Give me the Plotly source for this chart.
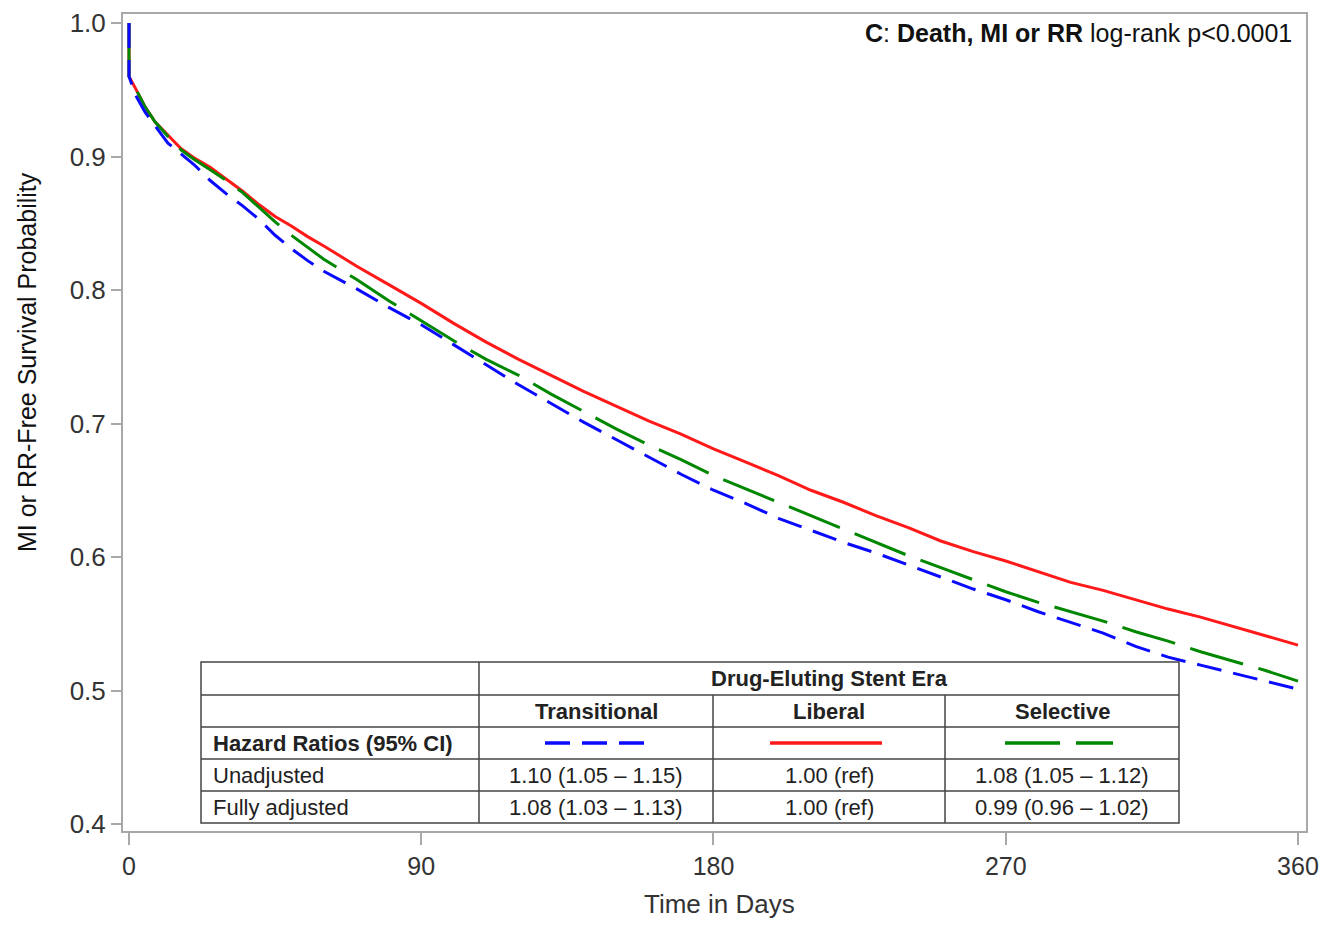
import plotly.graph_objects as go

# ---------------- data ----------------
days = [0, 0, 2, 5, 8, 12, 16, 20, 25, 30, 35, 40, 45, 50, 55, 60, 70, 80, 90, 100,
        110, 120, 130, 140, 150, 160, 170, 180, 190, 200, 210, 220, 230, 240, 250,
        260, 270, 280, 290, 300, 310, 320, 330, 340, 350, 360]

liberal = [1.0, 0.960, 0.951, 0.937, 0.926, 0.916, 0.906, 0.899, 0.892, 0.883, 0.874,
           0.864, 0.855, 0.848, 0.840, 0.833, 0.818, 0.804, 0.790, 0.775, 0.761, 0.748,
           0.736, 0.724, 0.713, 0.702, 0.692, 0.681, 0.671, 0.661, 0.650, 0.641, 0.631,
           0.622, 0.612, 0.604, 0.597, 0.589, 0.581, 0.575, 0.568, 0.561, 0.555, 0.548,
           0.541, 0.534]

selective = [1.0, 0.960, 0.951, 0.937, 0.926, 0.915, 0.905, 0.898, 0.890, 0.882, 0.873,
             0.862, 0.851, 0.841, 0.832, 0.823, 0.808, 0.792, 0.777, 0.762, 0.748, 0.736,
             0.722, 0.709, 0.696, 0.684, 0.673, 0.661, 0.651, 0.641, 0.631, 0.621, 0.611,
             0.601, 0.592, 0.583, 0.574, 0.566, 0.559, 0.552, 0.544, 0.537, 0.529, 0.522,
             0.515, 0.507]

transitional = [1.0, 0.960, 0.946, 0.933, 0.923, 0.910, 0.902, 0.894, 0.882, 0.872, 0.863,
                0.853, 0.841, 0.831, 0.822, 0.814, 0.801, 0.787, 0.774, 0.759, 0.744, 0.729,
                0.715, 0.701, 0.688, 0.675, 0.662, 0.650, 0.640, 0.629, 0.620, 0.611, 0.603,
                0.594, 0.585, 0.576, 0.568, 0.559, 0.551, 0.543, 0.533, 0.525, 0.519, 0.513,
                0.507, 0.501]

x_ticks = [0, 90, 180, 270, 360]
y_ticks = [0.4, 0.5, 0.6, 0.7, 0.8, 0.9, 1.0]

era_header = "Drug-Eluting Stent Era"
era_names = ["Transitional", "Liberal", "Selective"]
row_labels = ["Hazard Ratios (95% CI)", "Unadjusted", "Fully adjusted"]
unadjusted = ["1.10 (1.05 – 1.15)", "1.00 (ref)", "1.08 (1.05 – 1.12)"]
fully_adjusted = ["1.08 (1.03 – 1.13)", "1.00 (ref)", "0.99 (0.96 – 1.02)"]

# ---------------- styling ----------------
RED = "rgb(255,25,25)"
BLUE = "rgb(10,10,255)"
GREEN = "rgb(0,135,0)"
BLUE_DASH = "25px,12px"
GREEN_DASH = "55px,16px"
FONT = "Liberation Sans, Arial, sans-serif"
TXT = "#222222"

OFF = 8                      # browser body margin
W, H = 1336 - 2 * OFF, 931 - 2 * OFF
# plot-area edges in screen pixels
SL, SR, ST, SB = 123, 1306, 14, 831
L, R, T, B = SL - OFF, SR - OFF, ST - OFF, SB - OFF


def px(x):  # screen x -> paper
    return (x - SL) / (SR - SL)


def py(y):  # screen y -> paper
    return (SB - y) / (SB - ST)


fig = go.Figure()
fig.add_trace(go.Scatter(x=days, y=liberal, mode="lines", name="Liberal",
                         line=dict(color=RED, width=3)))
fig.add_trace(go.Scatter(x=days, y=selective, mode="lines", name="Selective",
                         line=dict(color=GREEN, width=3, dash=GREEN_DASH)))
fig.add_trace(go.Scatter(x=days, y=transitional, mode="lines", name="Transitional",
                         line=dict(color=BLUE, width=3, dash=BLUE_DASH)))

shapes = []
annotations = []

# table geometry (screen pixels)
tx = [201, 479, 713, 945, 1179]
ty = [662, 695, 727, 759, 791, 823]
TL = "#444444"

shapes.append(dict(type="rect", xref="paper", yref="paper",
                   x0=px(tx[0]), x1=px(tx[-1]), y0=py(ty[-1]), y1=py(ty[0]),
                   line=dict(color=TL, width=1.5), fillcolor="white", layer="above"))
for yy in ty[1:-1]:
    shapes.append(dict(type="line", xref="paper", yref="paper",
                       x0=px(tx[0]), x1=px(tx[-1]), y0=py(yy), y1=py(yy),
                       line=dict(color=TL, width=1.5)))
shapes.append(dict(type="line", xref="paper", yref="paper",
                   x0=px(tx[1]), x1=px(tx[1]), y0=py(ty[0]), y1=py(ty[-1]),
                   line=dict(color=TL, width=1.5)))
for xx in tx[2:4]:
    shapes.append(dict(type="line", xref="paper", yref="paper",
                       x0=px(xx), x1=px(xx), y0=py(ty[1]), y1=py(ty[-1]),
                       line=dict(color=TL, width=1.5)))

# legend samples in table
samples = [(545, 647, BLUE, BLUE_DASH), (770, 882, RED, "solid"), (1005, 1113, GREEN, GREEN_DASH)]
for x0, x1, c, d in samples:
    shapes.append(dict(type="line", xref="paper", yref="paper",
                       x0=px(x0), x1=px(x1), y0=py(743), y1=py(743),
                       line=dict(color=c, width=3.5, dash=d)))


def ann(text, x, y, xanchor="center", size=22, bold=False, color=TXT, angle=0,
        yanchor="middle"):
    annotations.append(dict(text=("<b>%s</b>" % text) if bold else text,
                            xref="paper", yref="paper", x=px(x), y=py(y),
                            xanchor=xanchor, yanchor=yanchor, showarrow=False,
                            textangle=angle,
                            font=dict(family=FONT, size=size, color=color)))


ann(era_header, (tx[1] + tx[4]) / 2, (ty[0] + ty[1]) / 2, bold=True)
for i, name in enumerate(era_names):
    ann(name, (tx[i + 1] + tx[i + 2]) / 2, (ty[1] + ty[2]) / 2, bold=True)
ann(row_labels[0], 211, (ty[2] + ty[3]) / 2, xanchor="left", bold=True)
ann(row_labels[1], 211, (ty[3] + ty[4]) / 2, xanchor="left")
ann(row_labels[2], 211, (ty[4] + ty[5]) / 2, xanchor="left")
for i in range(3):
    ann(unadjusted[i], (tx[i + 1] + tx[i + 2]) / 2, (ty[3] + ty[4]) / 2)
    ann(fully_adjusted[i], (tx[i + 1] + tx[i + 2]) / 2, (ty[4] + ty[5]) / 2)

# panel title
annotations.append(dict(text="<b>C</b>: <b>Death, MI or RR</b> log-rank p&lt;0.0001",
                        xref="paper", yref="paper", x=px(1294), y=py(33),
                        xanchor="right", yanchor="middle", showarrow=False,
                        font=dict(family=FONT, size=25, color="#111111")))

# axis titles (placed as in the reference)
ann("MI or RR-Free Survival Probability", 27, 362, size=25, color="#111111", angle=-90)
ann("Time in Days", 719, 921, size=26, color="#333333", yanchor="bottom")

GRAY = "#a8a8a8"
fig.update_layout(
    width=W, height=H,
    margin=dict(l=L, r=W - R, t=T, b=H - B, pad=0, autoexpand=False),
    paper_bgcolor="white", plot_bgcolor="white",
    showlegend=False,
    shapes=shapes, annotations=annotations,
    xaxis=dict(range=[-1.85, 362.47], tickvals=x_ticks, ticks="outside", ticklen=12,
               tickwidth=1.5, tickcolor=GRAY, showline=True, linecolor=GRAY, linewidth=2,
               mirror=True, showgrid=False, zeroline=False, automargin=False,
               tickfont=dict(family=FONT, size=25, color="#333333")),
    yaxis=dict(range=[0.39476, 1.00674], tickvals=y_ticks, tickformat=".1f",
               ticks="outside", ticklen=10, tickwidth=1.5, tickcolor=GRAY,
               showline=True, linecolor=GRAY, linewidth=2, mirror=True,
               showgrid=False, zeroline=False, automargin=False,
               tickfont=dict(family=FONT, size=26, color="#333333")),
)

fig.write_html("out.html")
